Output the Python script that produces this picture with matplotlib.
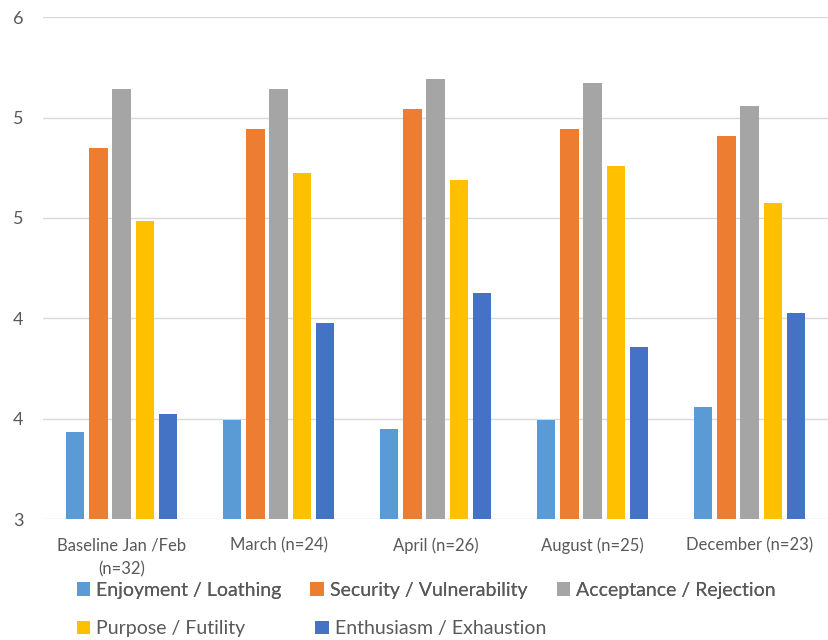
import numpy as np
import matplotlib
matplotlib.use("Agg")
import matplotlib.pyplot as plt
from matplotlib.ticker import FuncFormatter

plt.rcParams['font.family'] = ['Lato', 'DejaVu Sans']

# data
categories = ["Baseline Jan /Feb\n(n=32)", "March (n=24)", "April (n=26)",
              "August (n=25)", "December (n=23)"]
series_names = ["Enjoyment / Loathing", "Security / Vulnerability",
                "Acceptance / Rejection", "Purpose / Futility",
                "Enthusiasm / Exhaustion"]
enjoyment = [3.52, 3.59, 3.54, 3.59, 3.67]
security = [5.22, 5.33, 5.45, 5.33, 5.29]
acceptance = [5.57, 5.57, 5.63, 5.61, 5.47]
purpose = [4.78, 5.07, 5.03, 5.11, 4.89]
enthusiasm = [3.63, 4.17, 4.35, 4.03, 4.23]
yticks = [3.0, 3.6, 4.2, 4.8, 5.4, 6.0]

colors = ["#5B9BD5", "#ED7D31", "#A5A5A5", "#FFC000", "#4472C4"]
values = [enjoyment, security, acceptance, purpose, enthusiasm]

fig = plt.figure(figsize=(8.29, 6.4), dpi=100)
ax = fig.add_axes([0.052, 0.189, 0.947, 0.784])

x = np.arange(len(categories))
step = 0.148
width = 0.118
bars = []
for i, (vals, c, name) in enumerate(zip(values, colors, series_names)):
    b = ax.bar(x + (i - 2) * step, np.array(vals) - 3, width=width, bottom=3,
               color=c, label=name, zorder=3)
    bars.append(b)

ax.set_ylim(3, 6)
ax.set_xlim(-0.5, len(categories) - 0.5)
ax.set_yticks(yticks)
ax.yaxis.set_major_formatter(FuncFormatter(lambda v, p: "{:.0f}".format(v)))
ax.set_xticks(x)
ax.set_xticklabels(categories)
ax.grid(axis="y", color="#D9D9D9", linewidth=1, zorder=0)
for s in ["top", "right", "left", "bottom"]:
    ax.spines[s].set_visible(False)
ax.tick_params(axis="y", length=0, pad=14, labelsize=13, labelcolor="#595959")
ax.tick_params(axis="x", length=0, pad=13, labelsize=12, labelcolor="#595959")
for lbl in ax.get_xticklabels():
    lbl.set_linespacing(1.6)

# legend, two rows like the picture (Excel style)
leg_kw = dict(loc="lower left", frameon=False, fontsize=14, handlelength=0.7,
              handleheight=0.7, handletextpad=0.3, borderaxespad=0,
              labelcolor="#595959")
leg1 = fig.legend(bars[:3], series_names[:3], ncol=3, columnspacing=1.5,
                  bbox_to_anchor=(0.083, 0.052), **leg_kw)
fig.add_artist(leg1)
leg2 = fig.legend(bars[3:], series_names[3:], ncol=2, columnspacing=3.6,
                  bbox_to_anchor=(0.083, -0.008), **leg_kw)

fig.savefig("out.png", dpi=100)
